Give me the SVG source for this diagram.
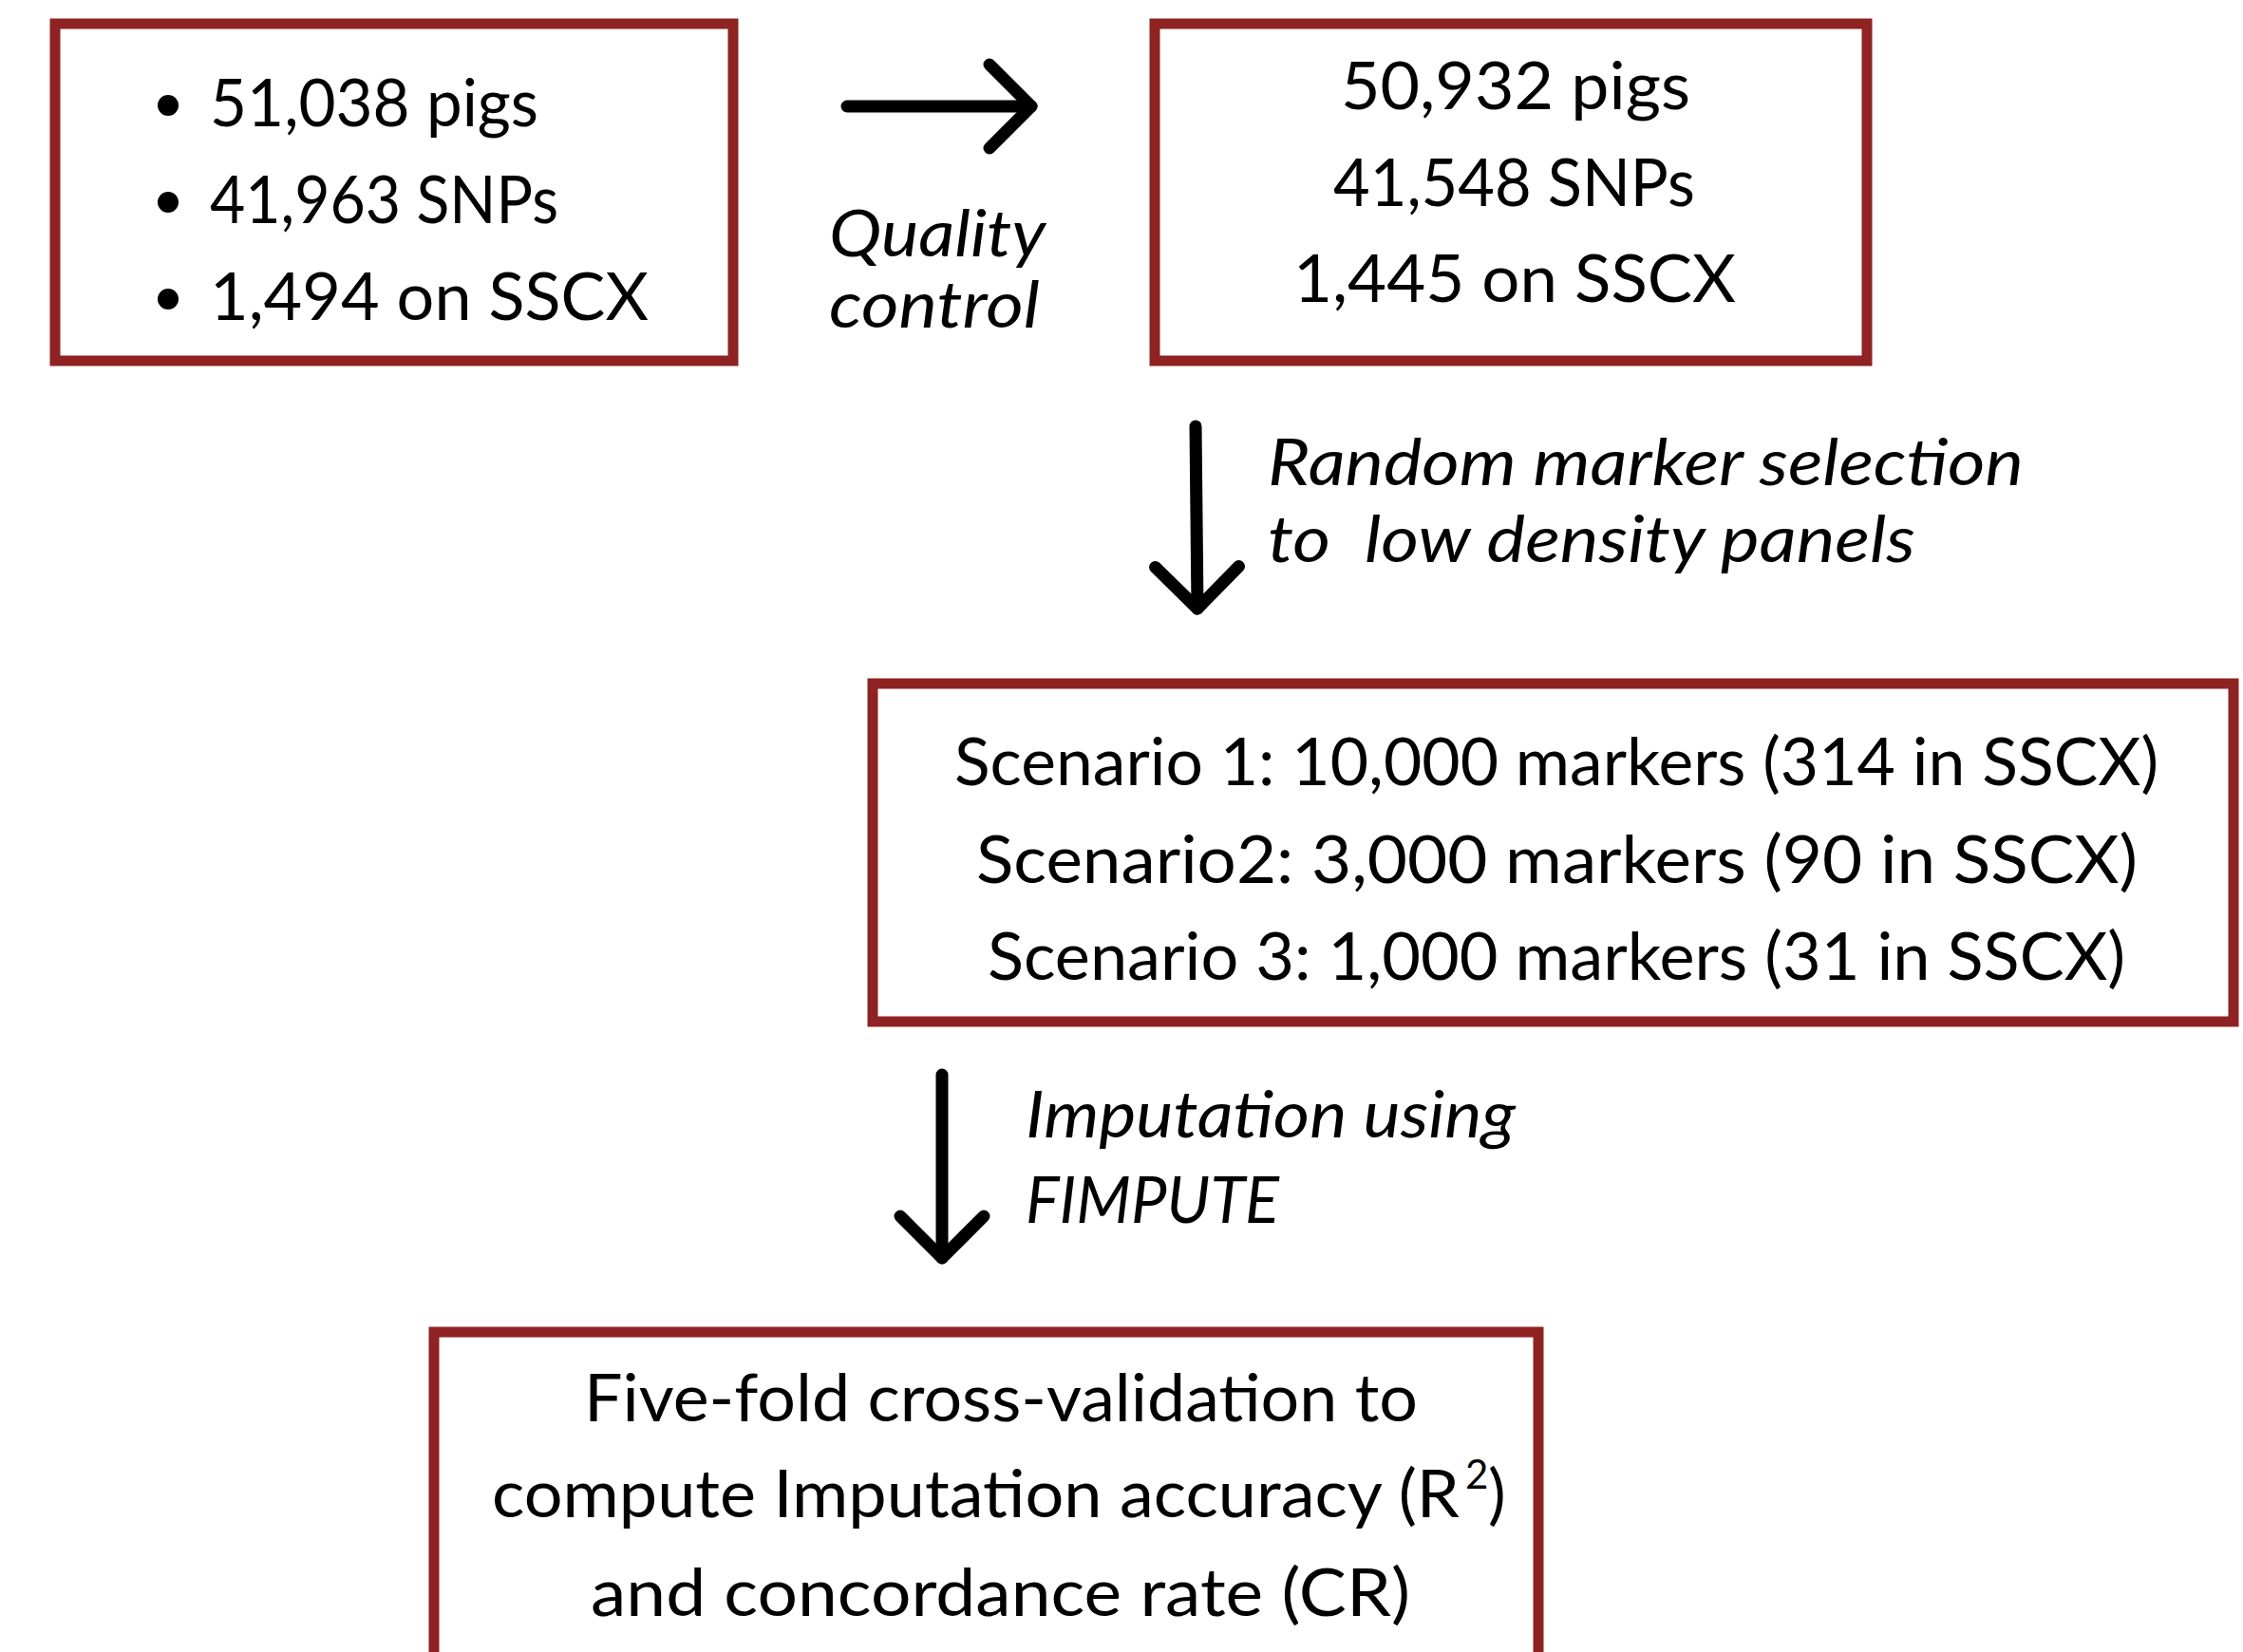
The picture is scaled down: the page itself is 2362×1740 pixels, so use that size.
<svg xmlns="http://www.w3.org/2000/svg" width="2362" height="1740" viewBox="0 0 2362 1740">
  <style>
    .box { fill: #ffffff; stroke: #8f2222; stroke-width: 11; }
    .t { font-family: "Lato", "Liberation Sans", sans-serif; font-size: 70px; fill: #000000; }
    .sup { font-family: "Lato", "Liberation Sans", sans-serif; font-size: 42px; fill: #000000; }
    .it { font-family: "Lato", "Liberation Sans", sans-serif; font-size: 68px; font-style: italic; fill: #000000; }
    .arrow { fill: none; stroke: #000000; stroke-width: 13; stroke-linecap: round; stroke-linejoin: round; }
  </style>
  <defs>
    <marker id="chevron" markerUnits="userSpaceOnUse" viewBox="-60 -60 120 120" markerWidth="120" markerHeight="120" refX="0" refY="0" orient="auto">
      <path d="M-44,-44 L0,0 L-44,44" fill="none" stroke="#000000" stroke-width="13" stroke-linecap="round" stroke-linejoin="round"/>
    </marker>
  </defs>
  <rect x="0" y="0" width="2362" height="1740" fill="#ffffff"/>

  <!-- raw genotype data -->
  <g id="raw-data">
    <rect class="box" x="58" y="25" width="714" height="355"/>
    <circle cx="177" cy="111" r="11"/>
    <circle cx="177" cy="213" r="11"/>
    <circle cx="177" cy="315" r="11"/>
    <text class="t" x="221" y="133" textLength="346" lengthAdjust="spacingAndGlyphs">51,038 pigs</text>
    <text class="t" x="221" y="235" textLength="367" lengthAdjust="spacingAndGlyphs">41,963 SNPs</text>
    <text class="t" x="221" y="337" textLength="462" lengthAdjust="spacingAndGlyphs">1,494 on SSCX</text>
  </g>

  <!-- data after quality control -->
  <g id="qc-data">
    <rect class="box" x="1216" y="25" width="750" height="355"/>
    <text class="t" x="1412" y="115" textLength="368" lengthAdjust="spacingAndGlyphs">50,932 pigs</text>
    <text class="t" x="1404" y="217" textLength="381" lengthAdjust="spacingAndGlyphs">41,548 SNPs</text>
    <text class="t" x="1362" y="318" textLength="466" lengthAdjust="spacingAndGlyphs">1,445 on SSCX</text>
  </g>

  <!-- low density scenarios -->
  <g id="scenarios">
    <rect class="box" x="919" y="720" width="1433" height="356"/>
    <text class="t" x="1005" y="827" textLength="1268" lengthAdjust="spacingAndGlyphs">Scenario 1: 10,000 markers (314 in SSCX)</text>
    <text class="t" x="1028" y="930" textLength="1223" lengthAdjust="spacingAndGlyphs">Scenario2: 3,000 markers (90 in SSCX)</text>
    <text class="t" x="1040" y="1032" textLength="1198" lengthAdjust="spacingAndGlyphs">Scenario 3: 1,000 markers (31 in SSCX)</text>
  </g>

  <!-- validation step -->
  <g id="validation">
    <rect class="box" x="457" y="1403" width="1163" height="400"/>
    <text class="t" x="615" y="1497" textLength="878" lengthAdjust="spacingAndGlyphs">Five-fold cross-validation to</text>
    <text class="t" x="518" y="1598" textLength="1019" lengthAdjust="spacingAndGlyphs">compute Imputation accuracy (R</text>
    <text class="sup" x="1543" y="1568">2</text>
    <text class="t" x="1567" y="1598">)</text>
    <text class="t" x="622" y="1702" textLength="863" lengthAdjust="spacingAndGlyphs">and concordance rate (CR)</text>
  </g>

  <!-- step arrows -->
  <g id="connectors">
    <path class="arrow" d="M892,112 L1086,112" marker-end="url(#chevron)"/>
    <path class="arrow" d="M1259,449 L1261,641" marker-end="url(#chevron)"/>
    <path class="arrow" d="M992,1132 L992,1325" marker-end="url(#chevron)"/>
  </g>

  <!-- step labels -->
  <g id="labels">
    <text class="it" x="873" y="270" textLength="228" lengthAdjust="spacingAndGlyphs">Quality</text>
    <text class="it" x="873" y="345" textLength="222" lengthAdjust="spacingAndGlyphs">control</text>
    <text class="it" x="1335" y="511" textLength="796" lengthAdjust="spacingAndGlyphs">Random marker selection</text>
    <text class="it" x="1335" y="592" xml:space="preserve" textLength="682" lengthAdjust="spacingAndGlyphs">to  low density panels</text>
    <text class="it" x="1080" y="1198" textLength="516" lengthAdjust="spacingAndGlyphs">Imputation using</text>
    <text class="it" x="1080" y="1288" textLength="267" lengthAdjust="spacingAndGlyphs">FIMPUTE</text>
  </g>
</svg>
